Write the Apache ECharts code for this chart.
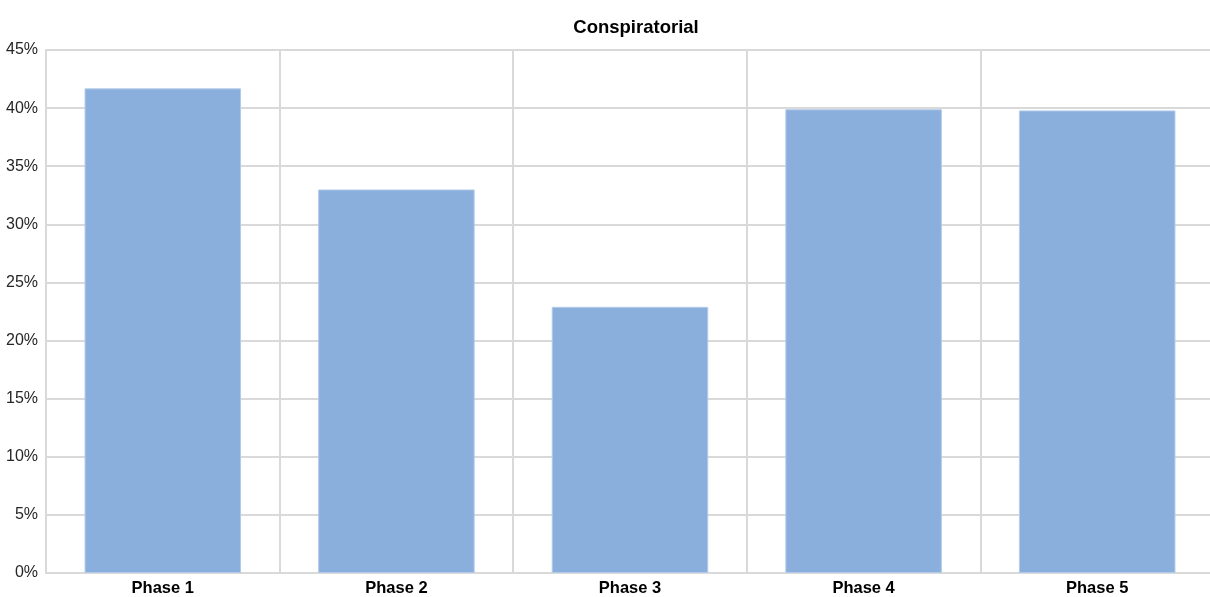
<!DOCTYPE html>
<html>
<head>
<meta charset="utf-8">
<script src="https://cdn.jsdelivr.net/npm/echarts@6/dist/echarts.min.js"></script>
<style>
html,body{margin:0;padding:0;background:#fff;overflow:hidden;}
#main{width:1216px;height:597px;}
</style>
</head>
<body>
<div id="main"></div>
<script>
var categories = ['Phase 1', 'Phase 2', 'Phase 3', 'Phase 4', 'Phase 5'];
var values = [41.7, 33.0, 22.9, 39.9, 39.8];
var yTicks = [0, 5, 10, 15, 20, 25, 30, 35, 40, 45];
var titleText = 'Conspiratorial';

var font = '"Liberation Sans Narrow", "Liberation Sans", Arial, sans-serif';
var chart = echarts.init(document.getElementById('main'));
chart.setOption({
  animation: false,
  title: {
    text: titleText,
    left: 631, top: 13, textAlign: 'center',
    textStyle: {fontFamily: font, fontSize: 18.5, fontWeight: 'bold', color: '#000'}
  },
  grid: {left: 46, top: 50, width: 1168, height: 523.7, containLabel: false},
  xAxis: {
    type: 'category',
    data: categories,
    axisLine: {show: true, lineStyle: {color: '#D9D9D9', width: 2}},
    axisTick: {show: false},
    splitLine: {show: true, lineStyle: {color: '#D9D9D9', width: 2}},
    axisLabel: {fontFamily: font, fontSize: 16.5, fontWeight: 'bold', color: '#000', margin: 7}
  },
  yAxis: {
    type: 'value',
    min: yTicks[0], max: yTicks[yTicks.length - 1], interval: 5,
    axisLine: {show: true, lineStyle: {color: '#D9D9D9', width: 2}},
    axisTick: {show: false},
    splitLine: {show: true, lineStyle: {color: '#D9D9D9', width: 2}},
    axisLabel: {fontFamily: font, fontSize: 16, color: '#262626', margin: 8,
      formatter: function (v) { return v + '%'; }}
  },
  series: [{
    type: 'bar',
    data: values,
    barCategoryGap: '33%',
    itemStyle: {color: '#8BAFDC', borderColor: '#B3CBEA', borderWidth: 1}
  }]
});
</script>
</body>
</html>
